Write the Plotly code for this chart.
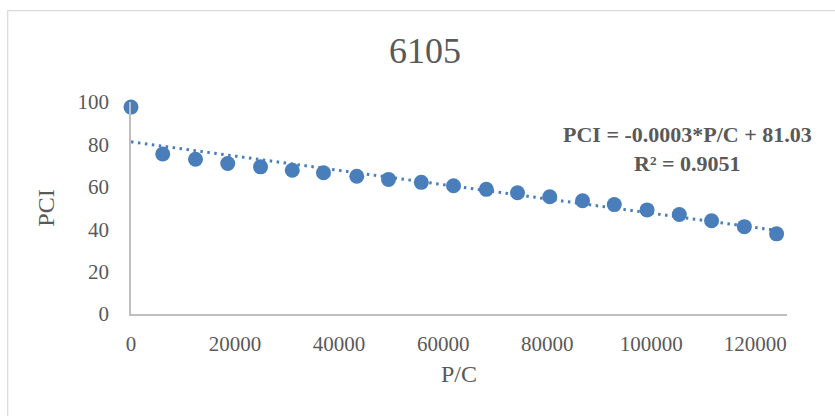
import numpy as np
import plotly.graph_objects as go

# Data
pc = [0, 6100, 12400, 18600, 24900, 31000, 37000, 43400, 49500, 55800,
      62000, 68300, 74300, 80500, 86800, 92900, 99200, 105400, 111600, 117900, 124100]
pci = [97.6, 75.5, 73.0, 71.0, 69.4, 67.8, 66.6, 65.0, 63.5, 62.1,
       60.5, 58.8, 57.2, 55.3, 53.4, 51.6, 49.1, 46.9, 44.0, 41.2, 37.8]
title_text = "6105"
eq_text = "PCI = -0.0003*P/C + 81.03<br>R² = 0.9051"
x_ticks = [0, 20000, 40000, 60000, 80000, 100000, 120000]
y_ticks = [0, 20, 40, 60, 80, 100]

BLUE = "#4a7ebb"
GRAY_TXT = "#595959"
FONT = "Liberation Serif, Times New Roman, serif"

# Linear trendline fitted from the data
slope, intercept = np.polyfit(pc, pci, 1)
tx = [min(pc), max(pc)]
ty = [slope * v + intercept for v in tx]

W, H = 835, 416
L, R = 130.5, 787.5
T, B = 101.7, 314.3

fig = go.Figure()
fig.add_trace(go.Scatter(x=tx, y=ty, mode="lines",
                         line=dict(color=BLUE, width=3, dash="2.5px,4.5px"),
                         hoverinfo="skip", showlegend=False))
fig.add_trace(go.Scatter(x=pc, y=pci, mode="markers",
                         marker=dict(color=BLUE, size=15, line=dict(width=0)),
                         showlegend=False, cliponaxis=False))

pw = R - L
ph = B - T

def px_x(p):
    return (p - L) / pw

def px_y(p):
    return (B - p) / ph

fig.update_layout(
    width=W, height=H,
    margin=dict(l=L, r=W - R, t=T, b=H - B, pad=0),
    paper_bgcolor="white", plot_bgcolor="white",
    font=dict(family=FONT, color=GRAY_TXT, size=21),
    title=dict(text=title_text, x=425 / W, xref="container", xanchor="center",
               y=1 - 50 / H, yref="container", yanchor="middle",
               font=dict(family=FONT, size=36, color=GRAY_TXT)),
    xaxis=dict(range=[0, 126100], tickvals=x_ticks, ticktext=[str(v) for v in x_ticks],
               showgrid=False, zeroline=False, showline=True, linecolor="#bfbfbf",
               linewidth=1.5, ticks="", ticklabelstandoff=10,
               tickfont=dict(family=FONT, size=21, color=GRAY_TXT),
               title=dict(text="P/C", standoff=10,
                          font=dict(family=FONT, size=24, color=GRAY_TXT))),
    yaxis=dict(range=[0, 100], tickvals=y_ticks, ticktext=[str(v) for v in y_ticks],
               showgrid=False, zeroline=False, showline=True, linecolor="#bfbfbf",
               linewidth=1.5, ticks="", ticklabelstandoff=16,
               tickfont=dict(family=FONT, size=21, color=GRAY_TXT),
               title=dict(text="PCI", standoff=16,
                          font=dict(family=FONT, size=24, color=GRAY_TXT))),
    shapes=[dict(type="rect", xref="paper", yref="paper",
                 x0=px_x(7), x1=px_x(845), y0=px_y(430), y1=px_y(10),
                 line=dict(color="#d9d9d9", width=1.2), fillcolor="rgba(0,0,0,0)",
                 layer="below")],
    annotations=[dict(text="<b>" + eq_text.replace("<br>", "</b><br><b>") + "</b>",
                      xref="paper", yref="paper", x=px_x(688), y=px_y(149),
                      xanchor="center", yanchor="middle", showarrow=False,
                      align="center",
                      font=dict(family=FONT, size=22, color=GRAY_TXT))],
)

fig.write_html("out.html")
